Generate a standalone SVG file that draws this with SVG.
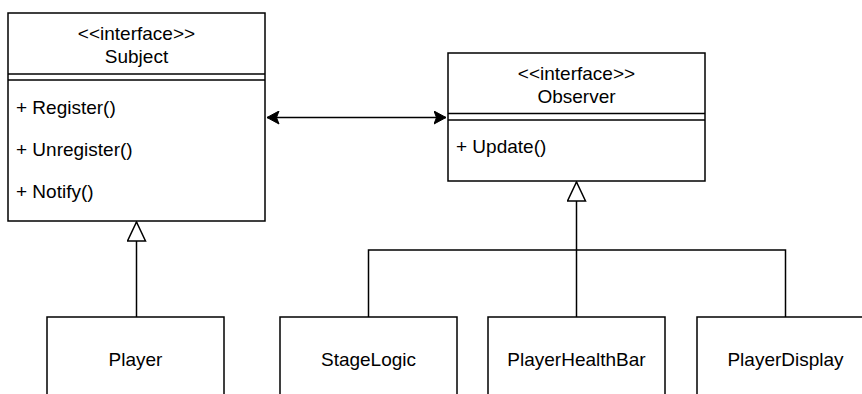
<svg xmlns="http://www.w3.org/2000/svg" width="862" height="394" viewBox="0 0 862 394">
<style>
.box{fill:#fff;stroke:#000;stroke-width:1.5}
.ln{fill:none;stroke:#000;stroke-width:1.5}
.t{font-family:"Liberation Sans",Arial,sans-serif;font-size:19px;fill:#000}
.c{text-anchor:middle}
</style>
<defs>
<marker id="tri" viewBox="0 0 22 22" refX="20" refY="10" markerWidth="22" markerHeight="22" markerUnits="userSpaceOnUse" orient="auto">
<path d="M1,1 L20,10 L1,19 Z" fill="#fff" stroke="#000" stroke-width="1.5"/>
</marker>
<marker id="arr" viewBox="0 0 14 14" refX="12.5" refY="7" markerWidth="14" markerHeight="14" markerUnits="userSpaceOnUse" orient="auto-start-reverse">
<path d="M0.5,0.5 L12.5,7 L0.5,13.5 L3,7 Z" fill="#000" stroke="#000" stroke-width="1"/>
</marker>
</defs>
<g id="connectors">
<path class="ln" d="M267,117.5 H446" marker-start="url(#arr)" marker-end="url(#arr)"/>
<path class="ln" d="M136.5,317 V222" marker-end="url(#tri)"/>
<path class="ln" d="M576.5,317 V182" marker-end="url(#tri)"/>
<path class="ln" d="M368.5,317 V250 H785.5 V317"/>
</g>
<g id="subject">
<rect class="box" x="8" y="13" width="257" height="208"/>
<line class="ln" x1="8" y1="74" x2="265" y2="74"/>
<line class="ln" x1="8" y1="80" x2="265" y2="80"/>
<text class="t c" x="136.5" y="40">&lt;&lt;interface&gt;&gt;</text>
<text class="t c" x="136.5" y="63">Subject</text>
<text class="t" x="16" y="113.5">+ Register()</text>
<text class="t" x="16" y="155.5">+ Unregister()</text>
<text class="t" x="16" y="197.5">+ Notify()</text>
</g>
<g id="observer">
<rect class="box" x="448" y="53" width="257" height="128"/>
<line class="ln" x1="448" y1="113.5" x2="705" y2="113.5"/>
<line class="ln" x1="448" y1="120" x2="705" y2="120"/>
<text class="t c" x="576.5" y="80">&lt;&lt;interface&gt;&gt;</text>
<text class="t c" x="576.5" y="103">Observer</text>
<text class="t" x="456" y="153">+ Update()</text>
</g>
<g id="player">
<rect class="box" x="47" y="317" width="177" height="90"/>
<text class="t c" x="135.5" y="366">Player</text>
</g>
<g id="stagelogic">
<rect class="box" x="280" y="317" width="177" height="90"/>
<text class="t c" x="368.5" y="366">StageLogic</text>
</g>
<g id="playerhealthbar">
<rect class="box" x="488" y="317" width="177" height="90"/>
<text class="t c" x="576.5" y="366">PlayerHealthBar</text>
</g>
<g id="playerdisplay">
<rect class="box" x="697" y="317" width="177" height="90"/>
<text class="t c" x="785.5" y="366">PlayerDisplay</text>
</g>
</svg>
